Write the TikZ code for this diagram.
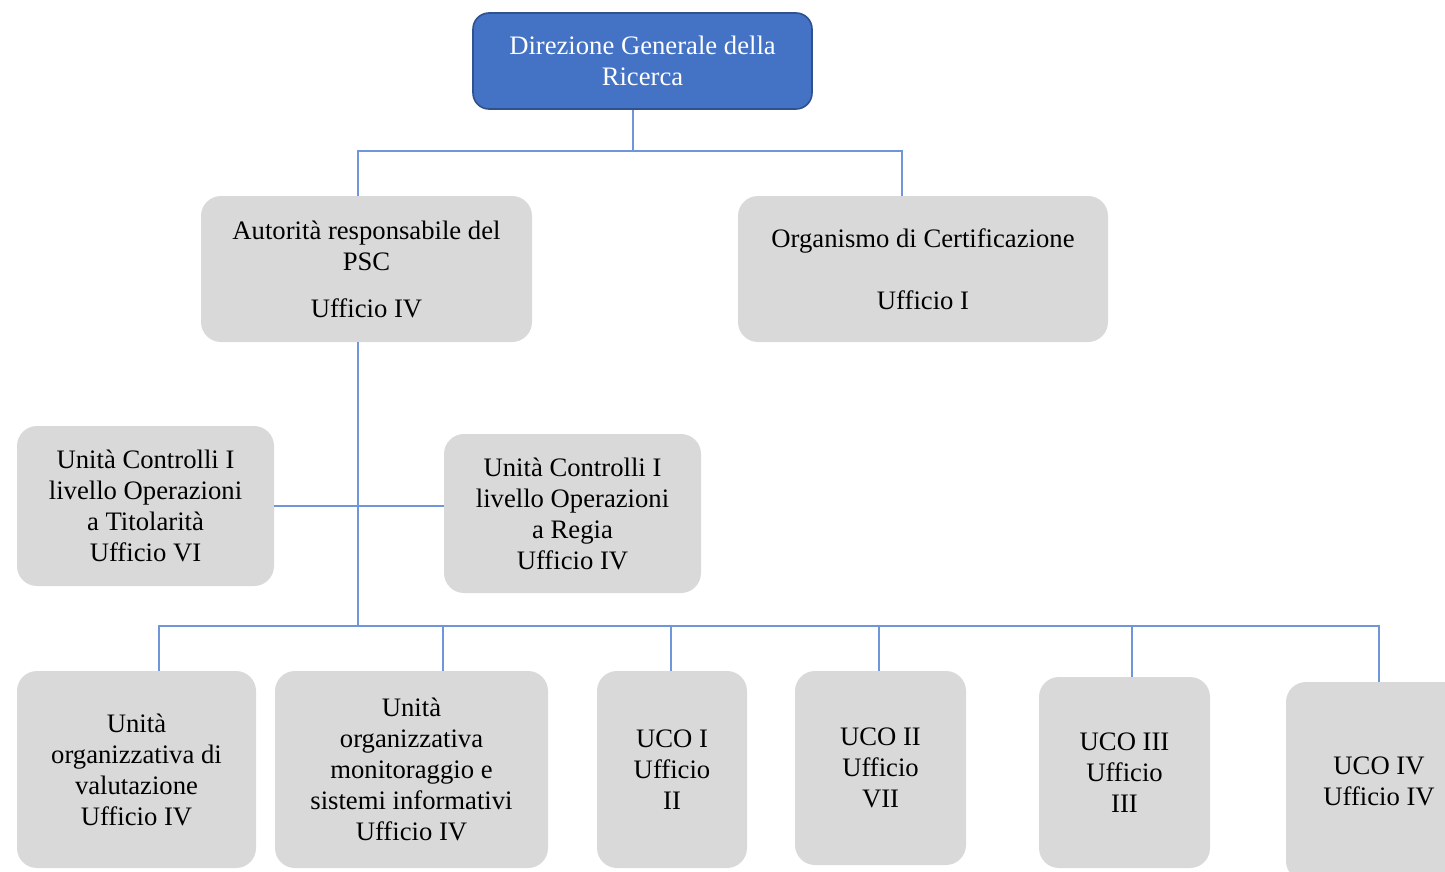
\documentclass[tikz,border=0pt]{standalone}
\usepackage{fontspec}
\setmainfont{Liberation Serif}
\usetikzlibrary{calc}
\definecolor{dirblue}{HTML}{4472C4}
\definecolor{dirborder}{HTML}{2F528F}
\definecolor{boxgray}{HTML}{D9D9D9}
\definecolor{linkblue}{HTML}{6F95DB}
\begin{document}
\begin{tikzpicture}[x=0.75pt,y=-0.75pt,
  every node/.style={font=\fontsize{20}{23.25}\selectfont, align=center, inner sep=0pt},
  gbox/.style 2 args={fill=boxgray, rounded corners=15pt, minimum width=#1*0.75pt, minimum height=#2*0.75pt},
  link/.style={draw=linkblue, line width=1.5pt}]
\clip (0,0) rectangle (1445,871);
% nodes
\node[gbox={339}{96}, fill=dirblue, draw=dirborder, line width=1.2pt, text=white, rounded corners=12pt] (dir) at (642.5,61) {Direzione Generale della\\Ricerca};
\node[gbox={331}{146}] (aut) at (366.5,269) {Autorità responsabile del\\PSC\\[12pt]Ufficio IV};
\node[gbox={370}{146}] (org) at (923,269) {Organismo di Certificazione\\[23pt]Ufficio I};
\node[gbox={257}{160}] (tit) at (145.5,506) {Unità Controlli I\\livello Operazioni\\a Titolarità\\Ufficio VI};
\node[gbox={257}{159}] (reg) at (572.5,513.5) {Unità Controlli I\\livello Operazioni\\a Regia\\Ufficio IV};
\node[gbox={239}{197}] (b1) at (136.5,769.5) {Unità\\organizzativa di\\valutazione\\Ufficio IV};
\node[gbox={273}{197}] (b2) at (411.5,769.5) {Unità\\organizzativa\\monitoraggio e\\sistemi informativi\\Ufficio IV};
\node[gbox={150}{197}] (b3) at (672,769.5) {UCO I\\Ufficio\\II};
\node[gbox={171}{194}] (b4) at (880.5,768) {UCO II\\Ufficio\\VII};
\node[gbox={171}{191}] (b5) at (1124.5,772.5) {UCO III\\Ufficio\\III};
\node[gbox={186}{199}] (b6) at (1379,781.5) {UCO IV\\Ufficio IV};
% connectors
\coordinate (top) at ($(dir.south)+(-9.5,41)$);
\draw[link] ($(dir.south)+(-9.5,0)$) -- (top);
\draw[link] (top) -| ($(aut.north)+(-8.5,0)$);
\draw[link] (top) -| ($(org.north)+(-21,0)$);
\coordinate (bus) at ($(aut.south)+(-8.5,284)$);
\draw[link] ($(aut.south)+(-8.5,0)$) -- (bus);
\draw[link] (tit.east) -- (tit.east -| reg.west);
\draw[link] (bus) -| ($(b1.north)+(22.5,0)$);
\draw[link] (bus) -| ($(b2.north)+(31.5,0)$);
\draw[link] (bus) -| ($(b3.north)+(-1,0)$);
\draw[link] (bus) -| ($(b4.north)+(-1.5,0)$);
\draw[link] (bus) -| ($(b5.north)+(7.5,0)$);
\draw[link] (bus) -| ($(b6.north)+(0,0)$);
\end{tikzpicture}
\end{document}
